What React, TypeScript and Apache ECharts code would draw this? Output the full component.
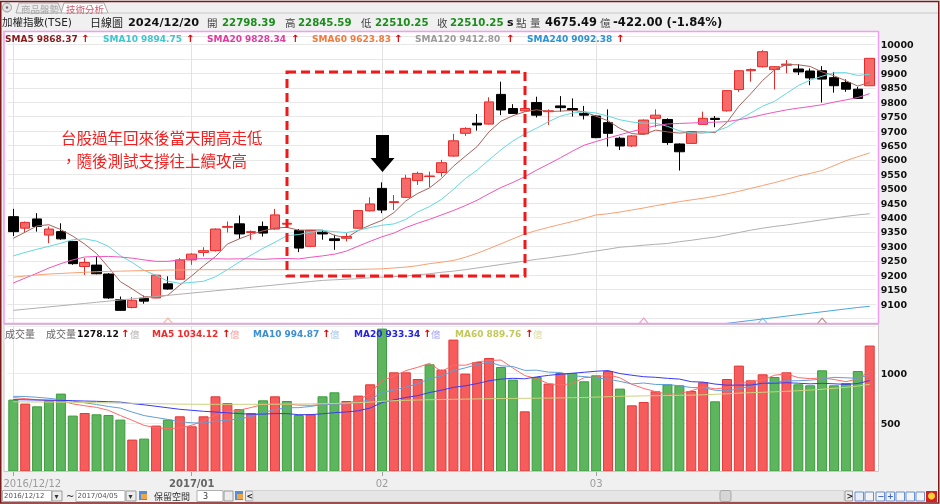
import React, { useEffect, useRef } from 'react';
import * as echarts from 'echarts';

const dates = [
  '2016/12/12','2016/12/13','2016/12/14','2016/12/15','2016/12/16','2016/12/19','2016/12/20','2016/12/21','2016/12/22','2016/12/23',
  '2016/12/26','2016/12/27','2016/12/28','2016/12/29','2016/12/30','2017/01/03','2017/01/04','2017/01/05','2017/01/06','2017/01/09',
  '2017/01/10','2017/01/11','2017/01/12','2017/01/13','2017/01/16','2017/01/17','2017/01/18','2017/01/19','2017/01/20','2017/01/23',
  '2017/01/24','2017/02/02','2017/02/03','2017/02/06','2017/02/07','2017/02/08','2017/02/09','2017/02/10','2017/02/13','2017/02/14',
  '2017/02/15','2017/02/16','2017/02/17','2017/02/18','2017/02/20','2017/02/21','2017/02/22','2017/02/23','2017/02/24','2017/03/01',
  '2017/03/02','2017/03/03','2017/03/06','2017/03/07','2017/03/08','2017/03/09','2017/03/10','2017/03/13','2017/03/14','2017/03/15',
  '2017/03/16','2017/03/17','2017/03/20','2017/03/21','2017/03/22','2017/03/23','2017/03/24','2017/03/27','2017/03/28','2017/03/29',
  '2017/03/30','2017/03/31','2017/04/05'];

const opens = [9403,9363,9395,9339,9351,9317,9230,9235,9204,9115, 9088,9120,9121,9170,9186,9253,9279,9285,9366,9378,
  9348,9369,9360,9377,9355,9300,9349,9326,9328,9363, 9423,9501,9452,9470,9528,9542,9556,9613,9692,9727,
  9724,9827,9778,9770,9799,9767,9787,9778,9761,9752, 9729,9675,9648,9690,9744,9740,9655,9657,9723,9744,
  9770,9844,9909,9923,9913,9928,9915,9908,9909,9885, 9868,9845,9857];
const closes = [9351,9383,9369,9360,9326,9240,9244,9205,9121,9078, 9113,9110,9200,9152,9253,9273,9285,9360,9369,9343,
  9351,9346,9409,9380,9294,9355,9343,9320,9334,9424, 9447,9426,9455,9536,9553,9544,9590,9666,9709,9721,
  9801,9773,9761,9778,9755,9770,9781,9773,9755,9677, 9692,9648,9683,9738,9755,9660,9628,9698,9744,9740,
  9840,9909,9913,9975,9923,9932,9905,9884,9880,9857, 9845,9813,9952];
const lows = [9336,9348,9351,9311,9323,9236,9201,9203,9118,9076, 9085,9101,9120,9150,9184,9236,9265,9282,9348,9326,
  9323,9334,9357,9369,9280,9297,9323,9288,9317,9361, 9421,9415,9426,9468,9513,9505,9542,9611,9683,9701,
  9722,9755,9759,9767,9747,9721,9767,9750,9740,9675, 9646,9634,9645,9688,9713,9652,9563,9655,9721,9713,
  9767,9836,9871,9920,9844,9900,9894,9859,9799,9833, 9836,9811,9857];
const highs = [9430,9386,9415,9369,9380,9319,9259,9265,9207,9126, 9124,9129,9202,9196,9259,9276,9297,9362,9386,9407,
  9355,9386,9430,9392,9360,9357,9357,9340,9346,9426, 9470,9522,9478,9548,9559,9559,9600,9690,9713,9759,
  9817,9871,9793,9784,9819,9775,9821,9813,9787,9755, 9775,9680,9686,9740,9775,9744,9657,9700,9767,9752,
  9842,9911,9917,9980,9925,9946,9932,9917,9925,9905, 9879,9853,9952];

const volumes = [737,697,670,730,797,577,603,590,583,537, 337,347,477,537,570,470,570,770,703,643,
  603,730,770,723,583,590,770,810,723,777, 890,1447,1010,1010,943,1090,1037,1337,997,1113,
  1153,1063,937,620,963,897,1003,1003,920,980, 1023,847,680,713,820,890,880,823,910,720,
  943,1077,930,990,963,1010,890,880,1030,880, 903,1023,1278];

// moving-average values before enough history exists
const ma5Head = [9328, 9349, 9371, 9375];
const ma10Head = [9267, 9279, 9290, 9300, 9311, 9323, 9326, 9318, 9300];
const ma20Head = [9173, 9190, 9207, 9225, 9240, 9253, 9263, 9265, 9265, 9263, 9259, 9253, 9248, 9248, 9253, 9257, 9257, 9257, 9256];
const ma60 = [9193,9197,9201,9204,9206,9208,9210,9212,9213,9214, 9215,9216,9217,9218,9218,9219,9219,9219,9219,9219,
  9219,9219,9219,9219,9219,9219,9219,9219,9220,9220, 9221,9222,9225,9228,9233,9240,9245,9251,9262,9276,
  9292,9309,9326,9343,9355,9366,9376,9386,9397,9409, 9413,9419,9426,9433,9441,9448,9455,9461,9467,9474,
  9482,9491,9501,9511,9521,9532,9544,9553,9563,9580, 9597,9611,9624];
const ma120 = [9078,9082,9086,9090,9094,9098,9102,9106,9110,9114, 9118,9122,9126,9130,9134,9138,9142,9146,9150,9154,
  9158,9162,9166,9170,9174,9178,9182,9184,9186,9188, 9191,9193,9195,9197,9201,9205,9210,9214,9219,9225,
  9231,9237,9243,9249,9255,9260,9266,9271,9278,9284, 9290,9297,9300,9304,9307,9310,9316,9321,9327,9332,
  9340,9348,9356,9363,9369,9374,9380,9386,9392,9398, 9404,9409,9413];
const ma240Start = 58;
const ma240Tail = [9022,9027,9033,9038,9043,9048,9053,9058,9063,9068,9073,9078,9083,9088,9092];

const volMa5Head = [757, 747, 735, 730];
const volMa10Head = [770, 768, 760, 750, 735, 722, 705, 688, 668];
const volMa20Head = [737, 735, 733, 731, 729, 726, 723, 720, 716, 712, 697, 685, 670, 655, 640, 630, 620, 613, 605];
const volMa60 = [715,714,713,712,711,710,708,706,704,702, 700,698,696,694,692,691,690,690,690,690,
  690,690,691,692,693,694,696,698,702,707, 712,720,726,730,733,736,738,740,742,744,
  746,748,749,750,751,752,754,756,758,762, 766,770,772,774,776,778,780,782,785,790,
  795,802,806,810,815,820,826,832,840,850, 860,872,890];

const xLabelIdx = [0, 15, 31, 49];
const xLabelText = ['2016/12/12', '2017/01', '02', '03'];
const crossIdx = [13, 53, 63, 68];
const crossColors = ['#f3a47e', '#ee7fb8', '#6cb6e6', '#a87264'];

const priceLegend = [
  { name: 'SMA5', value: '9868.37' },
  { name: 'SMA10', value: '9894.75' },
  { name: 'SMA20', value: '9828.34' },
  { name: 'SMA60', value: '9623.83' },
  { name: 'SMA120', value: '9412.80' },
  { name: 'SMA240', value: '9092.38' },
];
const volLegend = [
  { name: 'MA5', value: '1034.12' },
  { name: 'MA10', value: '994.87' },
  { name: 'MA20', value: '933.34' },
  { name: 'MA60', value: '889.76' },
];
const annotationLines = ['台股過年回來後當天開高走低', '，隨後測試支撐往上續攻高'];

const FONT = "'DejaVu Sans', 'Noto Sans CJK TC', sans-serif";
const CJK = "'Noto Sans CJK TC', 'DejaVu Sans', sans-serif";

function movingAverage(src: number[], n: number, head: number[]) {
  return src.map((_, i) => {
    if (i < n - 1) return head[i];
    let s = 0;
    for (let k = i - n + 1; k <= i; k++) s += src[k];
    return +(s / n).toFixed(2);
  });
}

function txt(x: number, y: number, text: string, fill: string, fontSize: number, fontWeight = 'normal', fontFamily = FONT, extra: any = {}) {
  return { type: 'text', x, y, z: 100, silent: true, style: { text, fill, fontSize, fontWeight, fontFamily, verticalAlign: 'middle', align: 'left', ...extra } };
}
function box(x: number, y: number, w: number, h: number, fill: string, stroke: string | null, z = 100, lineWidth = 1) {
  return { type: 'rect', z, silent: true, shape: { x, y, width: w, height: h }, style: { fill, stroke: stroke || undefined, lineWidth } };
}

export default function App() {
  const ref = useRef<HTMLDivElement>(null);
  useEffect(() => {
    const chart = echarts.init(ref.current!, null, { renderer: 'svg' });

    const ma5 = movingAverage(closes, 5, ma5Head);
    const ma10 = movingAverage(closes, 10, ma10Head);
    const ma20 = movingAverage(closes, 20, ma20Head);
    const ma240 = dates.map((_, i) => (i >= ma240Start ? ma240Tail[i - ma240Start] : null));
    const vma5 = movingAverage(volumes, 5, volMa5Head);
    const vma10 = movingAverage(volumes, 10, volMa10Head);
    const vma20 = movingAverage(volumes, 20, volMa20Head);

    const candles = dates.map((_, i) => [opens[i], closes[i], lows[i], highs[i]]);
    const volData = volumes.map((v, i) => {
      const down = i === 0 ? closes[0] < opens[0] : closes[i] < closes[i - 1];
      return { value: v, itemStyle: { color: down ? '#5db55d' : '#f65c5c', borderColor: down ? '#3f9c3f' : '#e23a3a', borderWidth: 1 } };
    });

    const priceColors = ['#8b1a1a', '#3fc6cf', '#e2399f', '#f27a3c', '#9b9b9b', '#2b92d6'];
    const priceLegX = [5, 103, 207, 312, 415, 527];
    const priceArrX = [81, 186, 291, 394, 506, 616];
    const volColors = ['#f02a2a', '#3b8fd2', '#2424e0', '#c2c85a'];
    const volUnitColors = ['#f0a4a4', '#a6c8ea', '#a6a6f0', '#dadca4'];
    const volLegX = [152, 253, 354, 455];
    const volArrX = [222, 322, 423, 525];

    const bg: any[] = [
      box(0, 0, 940, 504, '#f0f0f0', null, -10),
      box(4, 31.5, 875, 292, '#ffffff', null, -9),
      box(4, 324.5, 875, 147, '#ffffff', null, -9),
    ];

    const fg: any[] = [
      { type: 'rect', z: 110, silent: true, shape: { x: 0.75, y: 1.5, width: 938, height: 501.5 }, style: { fill: 'rgba(0,0,0,0)', stroke: '#7a1a1a', lineWidth: 1.5 } },
      { type: 'rect', z: 99, silent: true, shape: { x: 4, y: 324.5, width: 874.5, height: 147 }, style: { fill: 'rgba(0,0,0,0)', stroke: '#cdc6c6', lineWidth: 1 } },
      { type: 'rect', z: 101, silent: true, shape: { x: 4, y: 31.5, width: 874.5, height: 292 }, style: { fill: 'rgba(0,0,0,0)', stroke: '#f29cf2', lineWidth: 1.5 } },
      { type: 'circle', z: 100, silent: true, shape: { cx: 7, cy: 7.5, r: 4.5 }, style: { fill: '#e4e4e4', stroke: '#9a9a9a', lineWidth: 1 } },
      { type: 'circle', z: 100, silent: true, shape: { cx: 7, cy: 7.5, r: 1.2 }, style: { fill: '#666' } },
      { type: 'polygon', z: 100, silent: true, shape: { points: [[16, 13], [19, 3], [58, 3], [62, 13]] }, style: { fill: '#ececec', stroke: '#a8a8a8', lineWidth: 1 } },
      { type: 'polygon', z: 100, silent: true, shape: { points: [[61, 13], [64, 3], [104, 3], [108, 13]] }, style: { fill: '#ffffff', stroke: '#a8a8a8', lineWidth: 1 } },
      { type: 'line', z: 100, silent: true, shape: { x1: 108, y1: 13, x2: 938, y2: 13 }, style: { stroke: '#c8c8c8', lineWidth: 1 } },
      txt(21, 8.5, '商品盤勢', '#a6a6a6', 9.5, 'normal', CJK),
      txt(66, 8.5, '技術分析', '#d25a6c', 9.5, 'normal', CJK),
      txt(2, 22, '加權指數(TSE)', '#222', 10.5, 'normal', FONT),
      txt(90, 22, '日線圖', '#222', 11, 'normal', CJK),
      txt(128, 22, '2024/12/20', '#111', 11.3, 'bold'),
      txt(207, 22, '開', '#444', 10.5, 'normal', CJK),
      txt(222, 22, '22798.39', '#1c8c1c', 10.2, 'bold'),
      txt(285, 22, '高', '#444', 10.5, 'normal', CJK),
      txt(298, 22, '22845.59', '#1c8c1c', 10.2, 'bold'),
      txt(361, 22, '低', '#444', 10.5, 'normal', CJK),
      txt(375, 22, '22510.25', '#1c8c1c', 10.2, 'bold'),
      txt(437, 22, '收', '#444', 10.5, 'normal', CJK),
      txt(450, 22, '22510.25', '#1c8c1c', 10.2, 'bold'),
      txt(507, 22, 's', '#111', 11, 'bold'),
      txt(516, 22, '點', '#444', 10.5, 'normal', CJK),
      txt(530, 22, '量', '#444', 10.5, 'normal', CJK),
      txt(545, 22, '4675.49', '#111', 11.4, 'bold'),
      txt(600, 22, '億', '#444', 10.5, 'normal', CJK),
      txt(613, 22, '-422.00 (-1.84%)', '#111', 11.6, 'bold'),
      { type: 'rect', z: 100, silent: true, shape: { x: 287, y: 72, width: 238, height: 204 }, style: { fill: 'rgba(0,0,0,0)', stroke: '#f01818', lineWidth: 3, lineDash: [9, 5] } },
      { type: 'polygon', z: 100, silent: true, shape: { points: [[376, 135], [389, 135], [389, 158], [394.5, 158], [382.5, 172], [370.5, 158], [376, 158]] }, style: { fill: '#000' } },
      txt(61, 137, annotationLines[0], '#f41e1e', 15.5, 'normal', CJK),
      txt(61, 160, annotationLines[1], '#f41e1e', 15.5, 'normal', CJK),
      txt(5, 333.5, '成交量', '#666', 10, 'normal', CJK),
      txt(46, 333.5, '成交量', '#666', 10, 'normal', CJK),
      txt(77, 333.5, '1278.12', '#111', 9.2, 'bold'),
      txt(121, 333.5, '↑', '#e00000', 10, 'bold'),
      txt(130, 333.5, '億', '#b4b4b4', 9.5, 'normal', CJK),
      box(2.5, 490.5, 49, 11, '#ffffff', '#b0b0b0'),
      txt(4, 496, '2016/12/12', '#555', 7, 'normal'),
      box(52, 491, 10, 10, '#ececec', '#9a9a9a'),
      txt(54.5, 496, '▾', '#333', 8),
      txt(66, 496, '~', '#333', 10),
      box(76, 490.5, 49, 11, '#ffffff', '#b0b0b0'),
      txt(77.5, 496, '2017/04/05', '#555', 7, 'normal'),
      box(126, 491, 10, 10, '#ececec', '#9a9a9a'),
      txt(128.5, 496, '▾', '#333', 8),
      box(139, 491, 8, 9, '#4f90d8', null),
      box(141, 494, 6, 5, '#f0a44a', null),
      txt(154, 496, '保留空間', '#333', 9, 'normal', CJK),
      box(197, 490.5, 26, 11, '#ffffff', '#b0b0b0'),
      txt(203, 496, '3', '#333', 8),
      box(224, 491, 9, 10, '#ececec', '#9a9a9a'),
      box(235, 491, 8, 9, '#4f90d8', null),
      box(237, 494, 6, 5, '#f0a44a', null),
      box(245.5, 491, 7.5, 10, '#ececec', '#9a9a9a'),
      txt(246.5, 496, '<', '#222', 8, 'bold'),
      box(253, 490.5, 591, 11, '#e6e6e6', '#d4d4d4'),
      { type: 'rect', z: 100, silent: true, shape: { x: 720, y: 490.5, width: 11, height: 11, r: 2 }, style: { fill: '#d6d6d6', stroke: '#a8a8a8', lineWidth: 1 } },
      box(845, 491, 7.5, 10, '#ececec', '#9a9a9a'),
      txt(846.5, 496, '>', '#222', 8, 'bold'),
      box(855, 492, 8.5, 9, '#e8eef8', '#6b8fd0'),
      box(865, 492, 8.5, 9, '#f4f4f4', '#6b8fd0'),
      box(876, 492, 8.5, 9, '#f4f4f4', '#6b8fd0'),
      txt(877.5, 496, '−', '#3b63b8', 8, 'bold'),
      box(886, 492, 8.5, 9, '#f4f4f4', '#6b8fd0'),
      txt(887, 496, '+', '#3b63b8', 8, 'bold'),
      box(896, 492, 8.5, 9, '#f4f4f4', '#6b8fd0'),
      box(906, 492, 8.5, 9, '#f4f4f4', '#6b8fd0'),
      box(916, 492, 8.5, 9, '#f4f4f4', '#6b8fd0'),
      box(926, 491, 11, 11, '#d42020', null),
      { type: 'circle', z: 101, silent: true, shape: { cx: 931.5, cy: 496, r: 3.5 }, style: { fill: '#f6d23a' } },
    ];

    priceLegend.forEach((l, k) => {
      fg.push(txt(priceLegX[k], 38.5, `${l.name} ${l.value}`, priceColors[k], 9, 'bold'));
      fg.push(txt(priceArrX[k], 38.5, '↑', '#e00000', 10, 'bold'));
    });
    volLegend.forEach((l, k) => {
      fg.push(txt(volLegX[k], 333.5, `${l.name} ${l.value}`, volColors[k], 9, 'bold'));
      fg.push(txt(volArrX[k], 333.5, '↑', '#e00000', 10, 'bold'));
      fg.push(txt(volArrX[k] + 8, 333.5, '億', volUnitColors[k], 9.5, 'normal', CJK));
    });

    const isLabelIdx = (idx: number) => xLabelIdx.includes(idx);
    const gridMark = {
      silent: true, z: 1, symbol: ['none', 'none'], label: { show: false },
      lineStyle: { color: '#e2e2e2', type: 'solid', width: 1 },
      data: xLabelIdx.map((i) => ({ xAxis: dates[i] })),
    };

    const lineS = (name: string, data: any[], color: string, xi: number, extra: any = {}) => ({
      name, type: 'line', xAxisIndex: xi, yAxisIndex: xi, data, showSymbol: false, symbol: 'none', silent: true,
      lineStyle: { color, width: 1 }, itemStyle: { color }, z: 3, connectNulls: false, ...extra,
    });

    const option: any = {
      animation: false,
      textStyle: { fontFamily: FONT },
      graphic: { elements: [...bg, ...fg] },
      grid: [
        { left: 7.35, right: 64.35, top: 35.85, height: 288.35, outerBoundsMode: 'none' },
        { left: 7.35, right: 64.35, top: 325.8, height: 145.2, outerBoundsMode: 'none' },
      ],
      xAxis: [
        { type: 'category', gridIndex: 0, data: dates, boundaryGap: true, axisLine: { show: false }, axisTick: { show: false }, axisLabel: { show: false }, splitLine: { show: false } },
        {
          type: 'category', gridIndex: 1, data: dates, boundaryGap: true,
          axisLine: { show: true, lineStyle: { color: '#c4bcbc', width: 1 } },
          axisTick: { show: true, alignWithLabel: true, interval: (idx: number) => isLabelIdx(idx), length: 5, lineStyle: { color: '#a0a0a0' } },
          axisLabel: {
            show: true, interval: (idx: number) => isLabelIdx(idx), margin: 7, hideOverlap: false,
            fontSize: 10, fontFamily: 'DejaVu Sans', color: '#9c9c9c',
            formatter: (_v: string, idx: number) => {
              const k = xLabelIdx.indexOf(idx);
              if (k < 0) return '';
              if (k === 0) return `{f|${xLabelText[k]}}`;
              return k === 1 ? `{b|${xLabelText[k]}}` : `{n|${xLabelText[k]}}`;
            },
            rich: {
              f: { color: '#9c9c9c', fontSize: 10, fontFamily: 'DejaVu Sans', padding: [0, 0, 0, 38] },
              b: { fontWeight: 'bold', color: '#666', fontSize: 10, fontFamily: 'DejaVu Sans' },
              n: { color: '#9c9c9c', fontSize: 10, fontFamily: 'DejaVu Sans' },
            },
          },
          splitLine: { show: false },
        },
      ],
      yAxis: [
        {
          type: 'value', gridIndex: 0, position: 'right', min: 9030, max: 10030, splitNumber: 20, scale: true,
          axisLine: { show: false }, axisTick: { show: false },
          axisLabel: {
            margin: 5, fontSize: 9.5, fontWeight: 'bold', fontFamily: 'DejaVu Sans', color: '#111', showMinLabel: false, showMaxLabel: false,
            formatter: (v: number) => (v >= 9100 && v <= 10000 && Math.abs(v % 50) < 1e-6 ? String(v) : ''),
          },
          splitLine: { show: true, lineStyle: { color: '#e8e8e8', width: 1 } },
        },
        {
          type: 'value', gridIndex: 1, position: 'right', min: 23, max: 1475, splitNumber: 3,
          axisLine: { show: false }, axisTick: { show: false },
          axisLabel: {
            margin: 5, fontSize: 9.5, fontWeight: 'bold', fontFamily: 'DejaVu Sans', color: '#111', showMinLabel: false, showMaxLabel: false,
            formatter: (v: number) => (v === 500 || v === 1000 ? String(v) : ''),
          },
          splitLine: { show: true, lineStyle: { color: '#ececec', width: 1 } },
        },
      ],
      series: [
        { type: 'line', xAxisIndex: 0, yAxisIndex: 0, data: ma120, symbol: 'none', silent: true, lineStyle: { opacity: 0 }, z: 1, markLine: gridMark },
        { type: 'line', xAxisIndex: 1, yAxisIndex: 1, data: volMa60, symbol: 'none', silent: true, lineStyle: { opacity: 0 }, z: 1, markLine: gridMark },
        {
          type: 'candlestick', xAxisIndex: 0, yAxisIndex: 0, data: candles, barWidth: 10, silent: true, z: 2,
          itemStyle: { color: '#f76a6a', color0: '#000000', borderColor: '#e62a2a', borderColor0: '#000000', borderWidth: 1 },
        },
        lineS('SMA5', ma5, '#a8625a', 0),
        lineS('SMA10', ma10, '#62d8de', 0),
        lineS('SMA20', ma20, '#ee55bb', 0),
        lineS('SMA60', ma60, '#f7a072', 0),
        lineS('SMA120', ma120, '#b0b0b0', 0),
        lineS('SMA240', ma240, '#4aa6e0', 0),
        {
          type: 'scatter', xAxisIndex: 0, yAxisIndex: 0, silent: true, z: 4,
          symbol: 'path://M0,10L5,0L10,10', symbolSize: [10, 6],
          data: crossIdx.map((idx, k) => ({ value: [idx, 9041], itemStyle: { color: 'rgba(0,0,0,0)', borderColor: crossColors[k], borderWidth: 1 } })),
        },
        { type: 'bar', xAxisIndex: 1, yAxisIndex: 1, data: volData, barWidth: 10, silent: true, z: 2 },
        lineS('VMA5', vma5, '#ff6a6a', 1),
        lineS('VMA10', vma10, '#5f9fd8', 1),
        lineS('VMA20', vma20, '#3a3af2', 1),
        lineS('VMA60', volMa60, '#c9d27e', 1),
      ],
    };

    chart.setOption(option);
    return () => chart.dispose();
  }, []);

  return <div ref={ref} style={{ position: 'fixed', left: 0, top: 0, width: 940, height: 504 }} />;
}
